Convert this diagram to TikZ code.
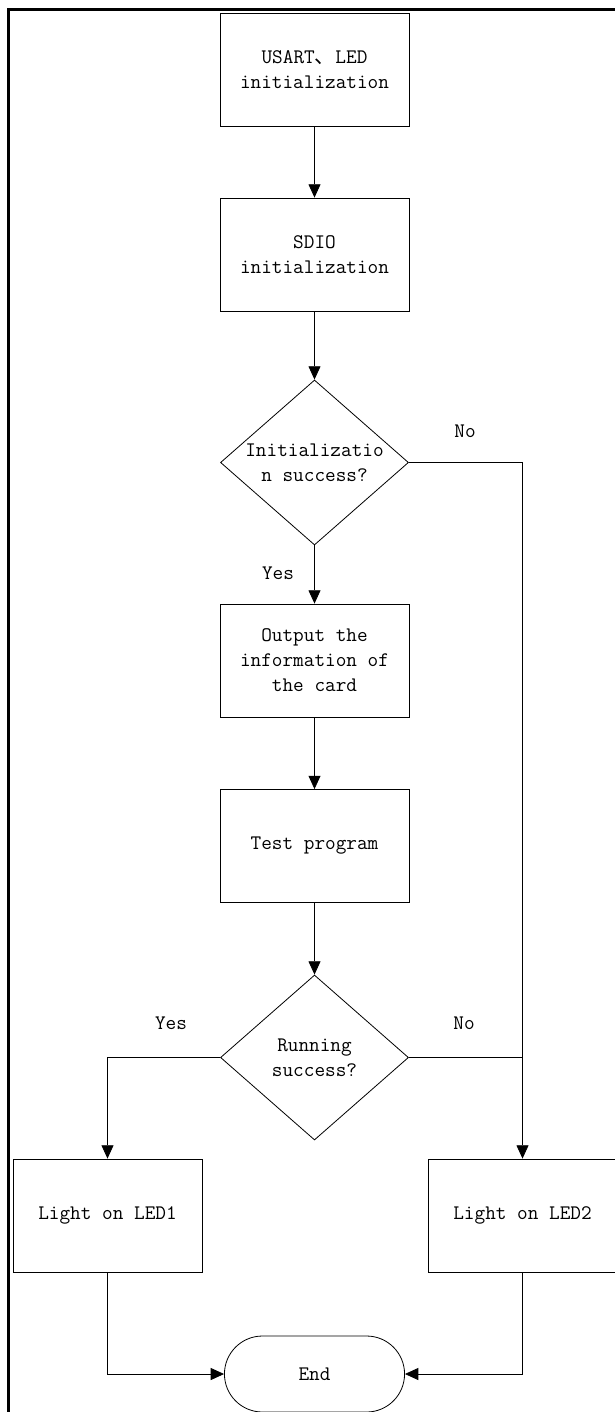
\documentclass[tikz,border=0pt]{standalone}
\usepackage{fontspec}
\newfontfamily\cjk{Noto Sans CJK SC}
\usetikzlibrary{arrows.meta,shapes.geometric,shapes.misc}
\newcommand{\fcfont}{\fontsize{15.5}{18.75}\selectfont\ttfamily}
\tikzset{
  pbox/.style={draw,rectangle,minimum width=141.75pt,minimum height=84.75pt,align=center,font=\fcfont,line width=0.6pt,inner sep=0pt},
  dbox/.style={draw,diamond,minimum width=141pt,minimum height=123.75pt,inner sep=0pt,line width=0.6pt},
  tbox/.style={draw,rounded rectangle,minimum width=141.75pt,minimum height=57pt,font=\fcfont,line width=0.6pt},
  dtxt/.style={align=center,font=\fcfont,inner sep=0pt},
  arr/.style={-{Triangle[length=10pt,width=9pt]},line width=0.6pt},
  plain/.style={line width=0.6pt},
  lbl/.style={font=\fcfont,inner sep=1pt},
}
\begin{document}
\begin{tikzpicture}[x=0.75pt,y=-0.75pt]
  \useasboundingbox (0,0) rectangle (614,1412);
  % frame
  \draw[line width=1.65pt] (8.5,1414) -- (8.5,9.5) -- (616,9.5);
  % main column
  \node[pbox] (b1) at (314.5,69.5) {USART{\cjk 、}LED\\initialization};
  \node[pbox] (b2) at (314.5,254.5) {SDIO\\initialization};
  \node[dbox] (d1) at (314.5,462.5) {};
  \node[dtxt] (d1t) at (d1) {Initializatio\\n success?};
  \node[pbox] (b3) at (314.5,660.5) {Output the\\information of\\the card};
  \node[pbox] (b4) at (314.5,846) {Test program};
  \node[dbox] (d2) at (314.5,1057.5) {};
  \node[dtxt] (d2t) at (d2) {Running\\success?};
  \node[pbox] (led1) at (107.5,1215.5) {Light on LED1};
  \node[pbox] (led2) at (522.5,1215.5) {Light on LED2};
  \node[tbox] (fin) at (314.5,1374) {End};
  % labels
  \node[lbl] (no1) at (465,431) {No};
  \node[lbl] (yes1) at (278,573) {Yes};
  \node[lbl] (yes2) at (171,1023) {Yes};
  \node[lbl] (no2) at (464,1023) {No};
  % connectors
  \draw[arr] (b1) -- (b2);
  \draw[arr] (b2) -- (d1);
  \draw[arr] (d1) -- (b3);
  \draw[arr] (b3) -- (b4);
  \draw[arr] (b4) -- (d2);
  \draw[arr] (d1.east) -| (led2);
  \draw[plain] (d2.east) -- (d2.east -| led2.north);
  \draw[arr] (d2.west) -| (led1);
  \draw[arr] (led1) |- (fin);
  \draw[arr] (led2) |- (fin);
\end{tikzpicture}
\end{document}
